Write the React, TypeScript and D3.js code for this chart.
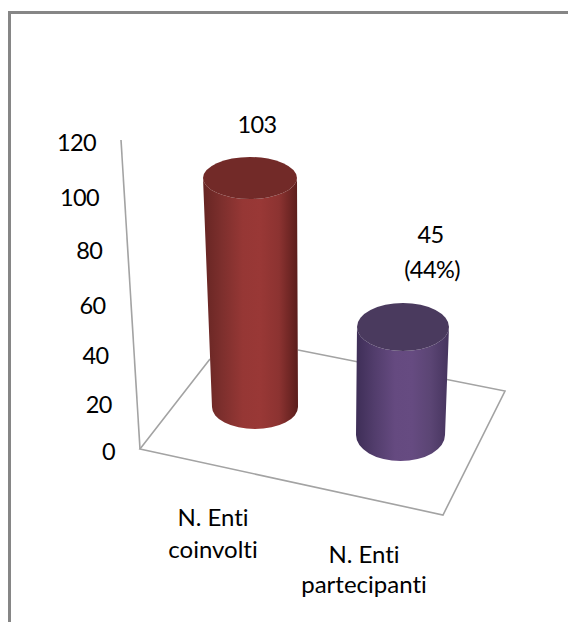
import React from "react";
import * as d3 from "d3";

const categories = ["N. Enti coinvolti", "N. Enti partecipanti"];
const values = [103, 45];
const valueLabels = [["103"], ["45", "(44%)"]];
const categoryLines = [["N. Enti", "coinvolti"], ["N. Enti", "partecipanti"]];
const ticks = [0, 20, 40, 60, 80, 100, 120];
const sideColors = [
  ["#662523", "#7d2f2d", "#963735", "#993836", "#8c3331", "#5a1d1b"],
  ["#3e2e57", "#523d6c", "#654a80", "#664b81", "#5b4574", "#46345e"],
];
const topColors = ["#722a28", "#4a3a5e"];

const W = 568, H = 622;
const font = "Lato, Carlito, sans-serif";

// Perspective-adjusted axis: spacing widens towards the top of the wall.
const tickY = d3.scaleLinear<number>().domain(ticks).range([451, 404.5, 355.5, 305, 250.5, 197.5, 142.5]);
const tickRight = d3.scaleLinear().domain([0, 120]).range([115, 96]);

// Per-bar projection of value to geometry.
const proj = [
  { y: d3.scaleLinear().domain([0, 103]).range([407, 178]), cx: d3.scaleLinear().domain([0, 103]).range([255, 250]), rx: d3.scaleLinear().domain([0, 103]).range([43, 47]), ry: d3.scaleLinear().domain([0, 103]).range([22, 21]) },
  { y: d3.scaleLinear().domain([0, 45]).range([435, 327]), cx: d3.scaleLinear().domain([0, 45]).range([400.5, 403]), rx: d3.scaleLinear().domain([0, 45]).range([44.5, 46]), ry: d3.scaleLinear().domain([0, 45]).range([26, 24]) },
];

const labelX = [[257], [430.5, 432]];
const labelY = [[133], [243, 278]];
const catX = [213, 364];
const catY = [[526, 558], [563, 593]];

function sidePath(i: number, v: number) {
  const p = proj[i];
  const tx = p.cx(v), ty = p.y(v), trx = p.rx(v), tr = p.ry(v);
  const bx = p.cx(0), by = p.y(0), brx = p.rx(0), br = p.ry(0);
  return `M${tx - trx},${ty} A${trx},${tr} 0 0 0 ${tx + trx},${ty} L${bx + brx},${by} A${brx},${br} 0 0 1 ${bx - brx},${by} Z`;
}

export default function App() {
  return (
    <svg width={W} height={H} viewBox={`0 0 ${W} ${H}`} style={{ position: "fixed", left: 0, top: 0, background: "#fff", fontVariantLigatures: "none" }}>
      <defs>
        {values.map((_, i) => (
          <linearGradient key={i} id={`g${i}`} x1="0" x2="1" y1="0" y2="0">
            {sideColors[i].map((c, k) => (
              <stop key={k} offset={[0, 0.2, 0.42, 0.6, 0.8, 1][k]} stopColor={c} />
            ))}
          </linearGradient>
        ))}
      </defs>
      <path d={`M9.5,${H} V12.5 H${W}`} fill="none" stroke="#868686" strokeWidth={3} />
      <g fill="none" stroke="#a3a3a3" strokeWidth={1.6}>
        <line x1={121} y1={140} x2={140} y2={449} />
        <path d="M210,359 L140,449 L443,515 L505,391 L298,350" />
      </g>
      {values.map((v, i) => {
        const p = proj[i];
        return (
          <g key={categories[i]}>
            <path d={sidePath(i, v)} fill={`url(#g${i})`} />
            <ellipse cx={p.cx(v)} cy={p.y(v)} rx={p.rx(v)} ry={p.ry(v)} fill={topColors[i]} />
          </g>
        );
      })}
      <g fontFamily={font} fontSize={23.5} fill="#000" letterSpacing={-0.6}>
        {ticks.map((t) => (
          <text key={t} x={tickRight(t)} y={tickY(t) + 8.5} textAnchor="end">{t}</text>
        ))}
        {valueLabels.map((ls, i) =>
          ls.map((l, k) => (
            <text key={l} x={labelX[i][k]} y={labelY[i][k]} textAnchor="middle">{l}</text>
          ))
        )}
      </g>
      <g fontFamily={font} fontSize={24} fill="#000">
        {categoryLines.map((ls, i) =>
          ls.map((l, k) => (
            <text key={l + i} x={catX[i]} y={catY[i][k]} textAnchor="middle">{l}</text>
          ))
        )}
      </g>
    </svg>
  );
}
